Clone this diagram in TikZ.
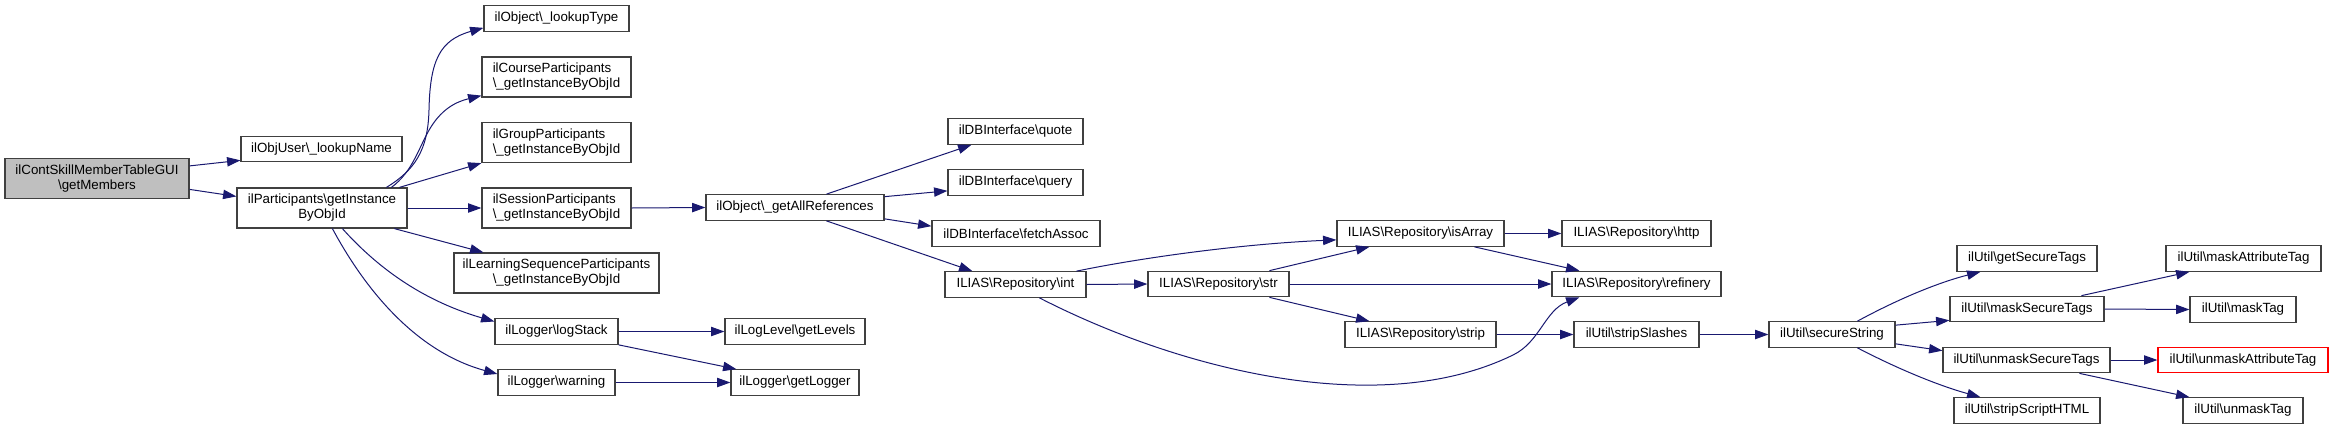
\documentclass[tikz,border=0pt]{standalone}
\usepackage{fontspec}
\setmainfont{Liberation Sans}
\usetikzlibrary{arrows.meta,calc}
\definecolor{mblue}{HTML}{191970}
\definecolor{nborder}{HTML}{404040}
\definecolor{gfill}{HTML}{BFBFBF}
\definecolor{redb}{HTML}{FF0000}
\begin{document}
\begin{tikzpicture}[x=0.75pt,y=-0.75pt,
  box/.style={draw=nborder, line width=0.9pt, fill=white, inner sep=0pt,
    minimum height=19.125pt, font=\fontsize{10}{11.25}\selectfont},
  two/.style={minimum height=30pt},
  wd/.style={minimum width=#1*0.75pt},
  cur/.style={fill=gfill},
  redbox/.style={draw=redb},
  conn/.style={draw=mblue, line width=0.75pt, -{Triangle[length=10pt,width=7pt]}}]
\fill[white] (0,0) rectangle (2333,429);
\useasboundingbox (0,0) rectangle (2333,429);
% nodes
\node[box,cur,two,wd=184,align=center] (gm) at (97,178.5) {ilContSkillMemberTableGUI\\\textbackslash getMembers};
\node[box,wd=161] (lun) at (321.5,149) {ilObjUser\textbackslash\_lookupName};
\node[box,two,wd=170,align=center] (gi) at (322,208) {ilParticipants\textbackslash getInstance\\ByObjId};
\node[box,wd=145] (lut) at (556.5,18.5) {ilObject\textbackslash\_lookupType};
\node[box,two,wd=149,align=left] (cp) at (556.5,77) {ilCourseParticipants\\\textbackslash\_getInstanceByObjId};
\node[box,two,wd=149,align=left] (gp) at (556.5,142.5) {ilGroupParticipants\\\textbackslash\_getInstanceByObjId};
\node[box,two,wd=149,align=left] (sp) at (556.5,208) {ilSessionParticipants\\\textbackslash\_getInstanceByObjId};
\node[box,two,wd=205,align=center] (lsp) at (556.5,273) {ilLearningSequenceParticipants\\\textbackslash\_getInstanceByObjId};
\node[box,wd=123] (ls) at (556.5,331.5) {ilLogger\textbackslash logStack};
\node[box,wd=117] (wn) at (556.5,382.5) {ilLogger\textbackslash warning};
\node[box,wd=178] (gar) at (795,207.5) {ilObject\textbackslash\_getAllReferences};
\node[box,wd=140] (gl) at (795,331.5) {ilLogLevel\textbackslash getLevels};
\node[box,wd=128] (glg) at (795,382.5) {ilLogger\textbackslash getLogger};
\node[box,wd=135] (quo) at (1015.5,131.5) {ilDBInterface\textbackslash quote};
\node[box,wd=135] (qry) at (1015.5,182.5) {ilDBInterface\textbackslash query};
\node[box,wd=168] (fa) at (1016,233.5) {ilDBInterface\textbackslash fetchAssoc};
\node[box,wd=141] (int) at (1015.5,284.5) {ILIAS\textbackslash Repository\textbackslash int};
\node[box,wd=141] (str) at (1218.5,284) {ILIAS\textbackslash Repository\textbackslash str};
\node[box,wd=167] (isa) at (1420.5,233.5) {ILIAS\textbackslash Repository\textbackslash isArray};
\node[box,wd=151] (strip) at (1420.5,334.5) {ILIAS\textbackslash Repository\textbackslash strip};
\node[box,wd=149] (http) at (1636.5,233.5) {ILIAS\textbackslash Repository\textbackslash http};
\node[box,wd=169] (ref) at (1636.5,284) {ILIAS\textbackslash Repository\textbackslash refinery};
\node[box,wd=125] (ss) at (1636.5,334.5) {ilUtil\textbackslash stripSlashes};
\node[box,wd=126] (sec) at (1832,334.5) {ilUtil\textbackslash secureString};
\node[box,wd=140] (gst) at (2027,258.5) {ilUtil\textbackslash getSecureTags};
\node[box,wd=154] (mst) at (2027,309) {ilUtil\textbackslash maskSecureTags};
\node[box,wd=167] (umst) at (2026.5,360) {ilUtil\textbackslash unmaskSecureTags};
\node[box,wd=146] (ssh) at (2027,410.5) {ilUtil\textbackslash stripScriptHTML};
\node[box,wd=155] (mat) at (2243.5,258.5) {ilUtil\textbackslash maskAttributeTag};
\node[box,wd=106] (mt) at (2243,309.5) {ilUtil\textbackslash maskTag};
\node[box,redbox,wd=170] (umat) at (2243,360) {ilUtil\textbackslash unmaskAttributeTag};
\node[box,wd=120] (umt) at (2243,410.5) {ilUtil\textbackslash unmaskTag};
% connectors
\draw[conn] ($(gm.north east)+(0,8)$) -- ($(lun.south west)+(0,-2)$);
\draw[conn] ($(gm.north east)+(0,31.5)$) -- ($(gi.north west)+(0,9)$);
\draw[conn] ($(gi.north west)+(150,0)$) .. controls (415,170) and (428,150) .. (429,110)
  .. controls (430,60) and (440,40) .. ($(lut.south west)+(0,-4)$);
\draw[conn] ($(gi.north west)+(155,0)$) .. controls (412,172) and (418,150) .. (428,132)
  .. controls (440,110) and (455,102) .. ($(cp.south west)+(0,-2)$);
\draw[conn] ($(gi.north west)+(163,0)$) -- (gp.south west);
\draw[conn] (gi.east) -- (sp.west);
\draw[conn] ($(gi.south west)+(158,0)$) -- ($(lsp.north west)+(30,0)$);
\draw[conn] ($(gi.south west)+(106,0)$) .. controls (375,265) and (420,300) .. ($(ls.west)+(0,-10)$);
\draw[conn] ($(gi.south west)+(96,0)$) .. controls (360,280) and (410,350) .. ($(wn.west)+(0,-8.5)$);
\draw[conn] (sp.east) -- (gar.west);
\draw[conn] ($(gar.north west)+(121,0)$) -- ($(quo.south west)+(24,0)$);
\draw[conn] ($(gar.north east)+(0,2.5)$) -- ($(qry.south west)+(0,-5)$);
\draw[conn] ($(gar.south east)+(0,-2)$) -- ($(fa.north west)+(0,6)$);
\draw[conn] ($(gar.south west)+(121,0)$) -- ($(int.north west)+(28,0)$);
\draw[conn] (ls.east) -- (gl.west);
\draw[conn] (ls.south east) -- ($(glg.north west)+(6,0)$);
\draw[conn] (wn.east) -- (glg.west);
\draw[conn] ($(int.north west)+(132,0)$) .. controls (1140,258) and (1240,244) .. ($(isa.south west)+(0,-7)$);
\draw[conn] (int.east) -- (str.west);
\draw[conn] ($(int.south west)+(95,0)$) .. controls (1180,370) and (1380,420) .. (1513,355)
  .. controls (1540,342) and (1545,310) .. ($(ref.south west)+(28,0)$);
\draw[conn] ($(str.north west)+(122,0)$) -- ($(isa.south west)+(33,0)$);
\draw[conn] (str.east) -- (ref.west);
\draw[conn] ($(str.south west)+(122,0)$) -- ($(strip.north west)+(25,0)$);
\draw[conn] (isa.east) -- (http.west);
\draw[conn] ($(isa.south west)+(138,0)$) -- ($(ref.north west)+(28,0)$);
\draw[conn] (strip.east) -- (ss.west);
\draw[conn] (ss.east) -- (sec.west);
\draw[conn] ($(sec.north west)+(89,0)$) .. controls (1900,298) and (1940,282) .. ($(gst.south west)+(24,0)$);
\draw[conn] ($(sec.north east)+(0,4)$) -- ($(mst.south west)+(0,-2)$);
\draw[conn] ($(sec.south east)+(0,-4)$) -- ($(umst.north west)+(0,4)$);
\draw[conn] ($(sec.south west)+(89,0)$) .. controls (1900,370) and (1940,386) .. ($(ssh.north west)+(27,0)$);
\draw[conn] ($(mst.north west)+(132,0)$) -- ($(mat.south west)+(24,0)$);
\draw[conn] (mst.east) -- (mt.west);
\draw[conn] (umst.east) -- (umat.west);
\draw[conn] ($(umst.south west)+(137,0)$) -- ($(umt.north west)+(7,0)$);
\end{tikzpicture}
\end{document}
